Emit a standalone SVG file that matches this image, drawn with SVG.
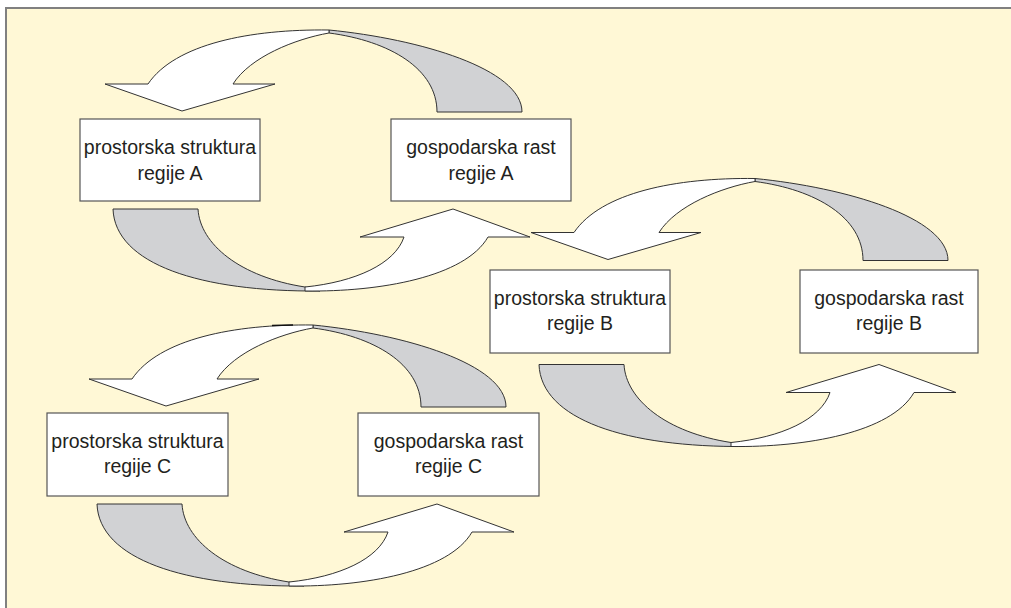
<svg xmlns="http://www.w3.org/2000/svg" width="1011" height="608" viewBox="0 0 1011 608">
  <defs>
    <style>
      .bg { fill: #fff8d6; }
      .frame { fill: none; stroke: #808080; stroke-width: 2; }
      .box rect { fill: #ffffff; stroke: #555555; stroke-width: 1.2; }
      .box text { font-family: "Liberation Sans", Arial, sans-serif; font-size: 19.5px; fill: #231f20; text-anchor: middle; }
      .front { fill: #ffffff; stroke: #333333; stroke-width: 1; }
      .back { fill: #d1d2d4; stroke: #333333; stroke-width: 1; }
    </style>
    <!-- upper half of a twisted ribbon arrow: grey back side on the right, white head pointing down-left -->
    <g id="loop-top">
      <path class="back" d="M249,-89 C340,-80 442,-50 442,-7 L357,-7 C357,-50 310,-78 249,-86 Z"/>
      <path class="front" d="M249,-86 C215,-80 170,-62 153,-35 L195,-35 L102,-8 L25,-35 L68,-35 C95,-75 170,-90 249,-89 Z"/>
    </g>
    <!-- lower half: grey back side on the left, white head pointing up-right -->
    <g id="loop-bottom">
      <path class="back" d="M33,90 L118,90 C120,125 160,158 225,168 L240,172 C120,173 35,145 33,90 Z"/>
      <path class="front" d="M225,172 C300,173 385,158 408,118 L450,118 L373,90 L280,118 L324,118 C315,145 275,163 225,168 Z"/>
    </g>
  </defs>

  <!-- panel -->
  <rect x="0" y="0" width="1011" height="608" fill="#ffffff"/>
  <rect class="bg" x="6" y="8" width="1005" height="600"/>
  <path class="frame" d="M6,608 V8 H1011"/>

  <g id="connectors">
    <use href="#loop-top" transform="translate(80,119)"/>
    <use href="#loop-bottom" transform="translate(80,119)"/>
    <use href="#loop-top" transform="translate(506,267.5)"/>
    <use href="#loop-bottom" transform="translate(506,274.5)"/>
    <use href="#loop-top" transform="translate(64,414)"/>
    <use href="#loop-bottom" transform="translate(64,414)"/>
    <!-- darker stretch of the outline on the upper C ribbon -->
    <path d="M272,325.6 C280,325.3 287,325.1 293,324.9" stroke="#111111" stroke-width="1.5" fill="none"/>
  </g>

  <g id="struktura-a" class="box">
    <rect x="80" y="119" width="180" height="82"/>
    <text x="170" y="154">prostorska struktura</text>
    <text x="170" y="180">regije A</text>
  </g>
  <g id="rast-a" class="box">
    <rect x="391" y="119" width="180" height="82"/>
    <text x="481" y="154">gospodarska rast</text>
    <text x="481" y="180">regije A</text>
  </g>
  <g id="struktura-b" class="box">
    <rect x="490" y="270" width="180" height="83"/>
    <text x="580" y="305">prostorska struktura</text>
    <text x="580" y="330">regije B</text>
  </g>
  <g id="rast-b" class="box">
    <rect x="800" y="270" width="178" height="83"/>
    <text x="889" y="305">gospodarska rast</text>
    <text x="889" y="330">regije B</text>
  </g>
  <g id="struktura-c" class="box">
    <rect x="47" y="413" width="181" height="83"/>
    <text x="137.5" y="448">prostorska struktura</text>
    <text x="137.5" y="473">regije C</text>
  </g>
  <g id="rast-c" class="box">
    <rect x="358" y="413" width="181" height="83"/>
    <text x="448.5" y="448">gospodarska rast</text>
    <text x="448.5" y="473">regije C</text>
  </g>
</svg>
